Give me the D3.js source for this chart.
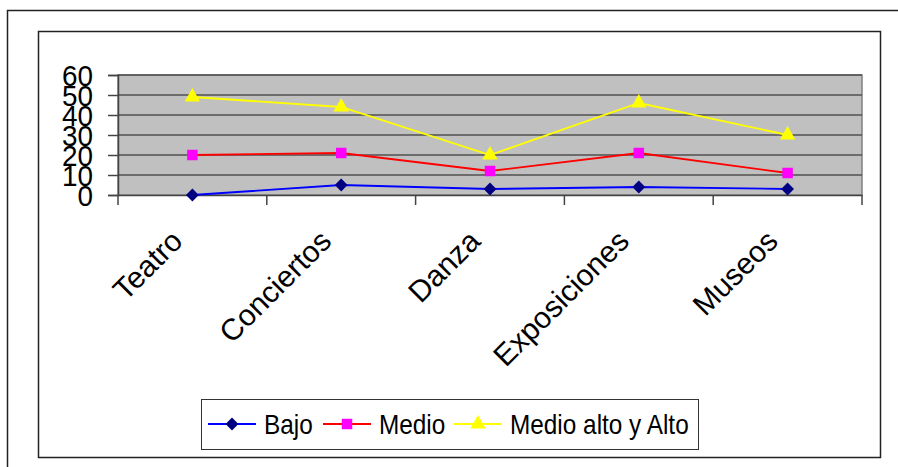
<!DOCTYPE html>
<html>
<head>
<meta charset="utf-8" />
<script src="https://d3js.org/d3.v7.min.js"></script>
<style>
  body { margin: 0; background: #fff; font-family: "Liberation Sans", Arial, sans-serif; }
  svg { display: block; }
</style>
</head>
<body>
<div id="container"></div>
<script>
  // DATA
  const categories = ["Teatro", "Conciertos", "Danza", "Exposiciones", "Museos"];
  const bajo = [0, 5, 3, 4, 3];
  const medio = [20, 21, 12, 21, 11];
  const medioAlto = [49, 44, 20, 46, 30];
  const yTicks = [0, 10, 20, 30, 40, 50, 60];
  const seriesNames = ["Bajo", "Medio", "Medio alto y Alto"];

  const series = [
    { name: seriesNames[0], values: bajo, line: "#0000ff", marker: "#000080", shape: "diamond" },
    { name: seriesNames[1], values: medio, line: "#ff0000", marker: "#ff00ff", shape: "square" },
    { name: seriesNames[2], values: medioAlto, line: "#ffff00", marker: "#ffff00", shape: "triangle" },
  ];

  const W = 898, H = 467;
  const plot = { left: 118, top: 75, right: 862, bottom: 195 };

  const svg = d3.select("#container").append("svg")
    .attr("width", W).attr("height", H);

  // outer + inner frames
  svg.append("rect").attr("x", 7.5).attr("y", 10.5).attr("width", 900).attr("height", 470)
    .attr("fill", "none").attr("stroke", "#222").attr("stroke-width", 1.5);
  svg.append("rect").attr("x", 38.5).attr("y", 31.5).attr("width", 842).attr("height", 426)
    .attr("fill", "none").attr("stroke", "#222").attr("stroke-width", 1.5);

  // SCALES
  const x = d3.scaleBand().domain(categories).range([plot.left, plot.right]);
  const y = d3.scaleLinear().domain([0, 60]).range([plot.bottom, plot.top]);
  const cx = (d) => x(d) + x.bandwidth() / 2;

  // plot area
  svg.append("rect")
    .attr("x", plot.left).attr("y", plot.top)
    .attr("width", plot.right - plot.left).attr("height", plot.bottom - plot.top)
    .attr("fill", "#c0c0c0").attr("stroke", "#808080").attr("stroke-width", 1.5);

  // gridlines
  svg.append("g").selectAll("line").data(yTicks.slice(1)).enter().append("line")
    .attr("x1", plot.left).attr("x2", plot.right)
    .attr("y1", (d) => y(d)).attr("y2", (d) => y(d))
    .attr("stroke", "#505050").attr("stroke-width", 1.5);

  // y axis
  const yAxis = svg.append("g")
    .attr("transform", "translate(" + plot.left + ",0)")
    .call(d3.axisLeft(y).tickValues(yTicks).tickSize(10).tickPadding(0));
  yAxis.select(".domain").attr("stroke", "#444").attr("stroke-width", 1.5);
  yAxis.selectAll(".tick line").attr("stroke", "#444").attr("stroke-width", 1.5);
  yAxis.selectAll("text")
    .attr("x", 0)
    .attr("dy", "0.35em")
    .attr("transform", "translate(-25,0) scale(0.93,1)")
    .attr("fill", "#000")
    .style("font-family", "Liberation Sans, Arial, sans-serif")
    .style("font-size", "30px");

  // x axis
  const xAxis = svg.append("g")
    .attr("transform", "translate(0," + plot.bottom + ")")
    .call(d3.axisBottom(x).tickSize(0).tickFormat(""));
  xAxis.select(".domain").attr("stroke", "#444").attr("stroke-width", 1.5);
  xAxis.selectAll(".tick").remove();
  // boundary ticks between categories
  const bounds = categories.map((c) => x(c)).concat([plot.right]);
  xAxis.selectAll("line.bt").data(bounds).enter().append("line")
    .attr("class", "bt")
    .attr("x1", (d) => d).attr("x2", (d) => d)
    .attr("y1", 0).attr("y2", 10)
    .attr("stroke", "#444").attr("stroke-width", 1.5);

  // category labels
  svg.append("g").selectAll("text").data(categories).enter().append("text")
    .attr("transform", (d) => "translate(" + (cx(d) - 8) + ",243) rotate(-45)")
    .attr("text-anchor", "end")
    .style("font-size", "30px")
    .attr("fill", "#000")
    .text((d) => d);

  // LINES
  const line = d3.line().x((d, i) => cx(categories[i])).y((d) => y(d));

  const symbolFor = (shape) =>
    shape === "diamond" ? d3.symbol().type(d3.symbolDiamond2).size(105)
    : shape === "square" ? d3.symbol().type(d3.symbolSquare2).size(140)
    : d3.symbol().type(d3.symbolTriangle2).size(170);

  series.forEach((s) => {
    svg.append("path")
      .attr("d", line(s.values))
      .attr("fill", "none")
      .attr("stroke", s.line)
      .attr("stroke-width", 1.8);
    svg.append("g").selectAll("path").data(s.values).enter().append("path")
      .attr("transform", (d, i) => "translate(" + cx(categories[i]) + "," + y(d) + ")")
      .attr("d", symbolFor(s.shape)())
      .attr("fill", s.marker);
  });

  // LEGEND
  const legend = svg.append("g");
  legend.append("rect")
    .attr("x", 201.5).attr("y", 399.5).attr("width", 497).attr("height", 50)
    .attr("fill", "#fff").attr("stroke", "#333").attr("stroke-width", 1);
  const legX = [208, 323, 454];
  series.forEach((s, i) => {
    const g = legend.append("g").attr("transform", "translate(" + legX[i] + ",424)");
    g.append("line").attr("x1", 0).attr("x2", 48).attr("y1", 0).attr("y2", 0)
      .attr("stroke", s.line).attr("stroke-width", 2);
    g.append("path").attr("transform", "translate(24,0)")
      .attr("d", symbolFor(s.shape)()).attr("fill", s.marker);
    g.append("text")
      .attr("transform", "translate(56,0) scale(0.87,1)")
      .attr("dy", "0.36em")
      .style("font-size", "28px").attr("fill", "#000").text(s.name);
  });
</script>
</body>
</html>
